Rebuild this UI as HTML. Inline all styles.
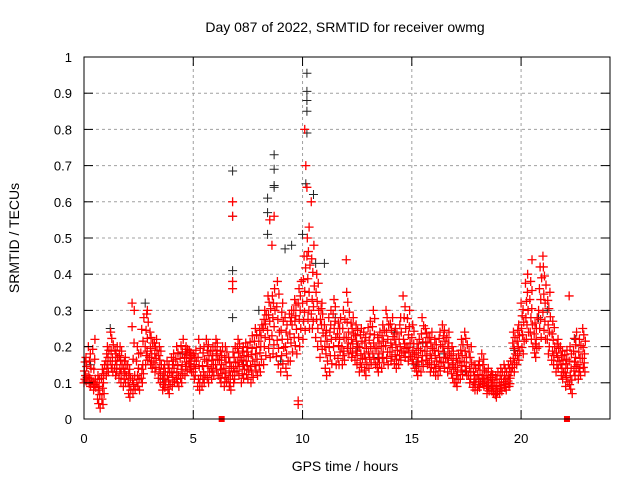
<!DOCTYPE html>
<html><head><meta charset="utf-8"><style>
html,body{margin:0;padding:0;background:#fff;}
svg{display:block;font-family:"Liberation Sans",sans-serif;}
</style></head><body>
<svg id="chart" width="640" height="480" viewBox="0 0 640 480" xmlns="http://www.w3.org/2000/svg">
<rect width="640" height="480" fill="#fff"/>
<text x="345" y="32" font-size="14" text-anchor="middle">Day 087 of 2022, SRMTID for receiver owmg</text>
<text transform="translate(19,238) rotate(-90)" font-size="14" text-anchor="middle">SRMTID / TECUs</text>
<text x="345" y="471" font-size="14" text-anchor="middle">GPS time / hours</text>
<g id="grid"></g>
<g id="marks"></g>
<rect x="84" y="57" width="526" height="362" fill="none" stroke="#000" stroke-width="1"/>
<g id="ticks"></g>
</svg>
<script>
const xTicks=[0,5,10,15,20];
const yTicks=[0,0.1,0.2,0.3,0.4,0.5,0.6,0.7,0.8,0.9,1];
const yTickLabels=["0","0.1","0.2","0.3","0.4","0.5","0.6","0.7","0.8","0.9","1"];
const tStart=0, tStep=0.2;
const redLo=[.10,.09,.08,.03,.04,.12,.13,.12,.10,.09,.06,.07,.08,.10,.15,.14,.13,.10,.08,.07,.09,.09,.10,.12,.13,.11,.08,.09,.10,.11,.12,.10,.09,.08,.10,.12,.10,.11,.10,.12,.13,.15,.17,.18,.15,.13,.12,.16,.18,.20,.22,.25,.25,.20,.17,.12,.13,.15,.15,.15,.18,.17,.15,.13,.12,.14,.15,.13,.14,.15,.16,.14,.15,.17,.16,.14,.12,.13,.15,.13,.12,.12,.14,.13,.10,.09,.11,.12,.10,.08,.08,.09,.07,.07,.06,.07,.08,.09,.13,.15,.18,.22,.20,.17,.20,.22,.18,.15,.13,.11,.09,.07,.12,.11,.13];
const redMid=[.12,.12,.11,.08,.10,.16,.17,.16,.15,.13,.10,.12,.12,.15,.20,.18,.18,.15,.11,.12,.14,.13,.15,.17,.16,.15,.12,.13,.16,.15,.18,.15,.14,.12,.14,.17,.15,.16,.16,.18,.20,.25,.27,.28,.24,.22,.20,.26,.27,.30,.32,.35,.33,.30,.26,.20,.22,.25,.22,.20,.24,.22,.20,.18,.18,.20,.21,.18,.20,.22,.21,.19,.20,.22,.21,.19,.17,.19,.20,.18,.16,.17,.20,.18,.15,.13,.16,.17,.14,.11,.11,.12,.10,.10,.09,.10,.11,.12,.18,.20,.25,.30,.28,.22,.30,.32,.26,.20,.17,.15,.14,.12,.17,.15,.18];
const redHi=[.17,.20,.22,.12,.15,.20,.24,.20,.20,.17,.15,.30,.20,.28,.29,.24,.22,.20,.15,.16,.18,.20,.22,.20,.19,.19,.22,.20,.22,.20,.22,.20,.20,.17,.20,.22,.20,.21,.23,.25,.26,.30,.34,.36,.38,.32,.28,.30,.33,.38,.45,.50,.48,.40,.32,.26,.30,.33,.28,.30,.35,.28,.26,.25,.24,.27,.30,.24,.26,.30,.28,.25,.28,.34,.30,.26,.22,.28,.25,.24,.22,.24,.26,.24,.20,.18,.22,.24,.20,.15,.16,.18,.14,.13,.13,.14,.15,.16,.24,.26,.32,.40,.38,.28,.42,.42,.35,.27,.22,.20,.19,.20,.24,.22,.25];
const redOutT=[6.8,6.8,6.8,6.8,8.5,8.7,8.6,10.1,10.15,10.2,10.3,10.4,10.2,9.8,9.8,12.0,22.2,20.5,21.0,2.2,2.9];
const redOutV=[.60,.56,.38,.36,.55,.56,.48,.80,.70,.64,.53,.60,.45,.05,.04,.44,.34,.44,.45,.32,.30];
const blackT=[6.8,6.8,6.8,6.8,8.7,8.7,8.7,8.7,8.4,8.4,8.4,10.2,10.2,10.2,10.2,10.2,10.15,10.0,10.5,10.6,11.0,9.5,9.2,0.3,1.2,2.8,4.5,5.6,7.3,8.0,9.0,11.5,12.5,13.5,14.2,15.5,16.5,17.5,18.5,19.7,20.8,21.2,22.5,3.6,15.2];
const blackV=[.685,.56,.41,.28,.73,.69,.645,.64,.61,.57,.51,.955,.905,.88,.85,.79,.65,.51,.62,.43,.43,.48,.47,.15,.25,.32,.18,.22,.15,.30,.16,.28,.20,.17,.24,.21,.18,.13,.09,.19,.28,.30,.22,.11,.15];
const squareT=[6.3,22.1];
const X0=84,X1=608.5,Y0=419,Y1=57;
function sx(t){return X0+t*(X1-X0)/24;}
function sy(v){return Y0-v*(Y0-Y1);}
const NS="http://www.w3.org/2000/svg";
const grid=document.getElementById('grid'),ticks=document.getElementById('ticks'),marks=document.getElementById('marks');
function el(n,a,p){const e=document.createElementNS(NS,n);for(const k in a)e.setAttribute(k,a[k]);p.appendChild(e);return e;}
yTicks.forEach((v,i)=>{
  const y=sy(v);
  if(i>0&&i<yTicks.length-1){const g=el('line',{x1:84,x2:610,y1:y,y2:y,stroke:'#a0a0a0','stroke-dasharray':'3,3'},grid);
  
  }
  el('line',{x1:84,x2:93,y1:y,y2:y,stroke:'#000'},ticks);
  el('line',{x1:601,x2:610,y1:y,y2:y,stroke:'#000'},ticks);
  const t=el('text',{x:72,y:y+5,'font-size':13,'text-anchor':'end'},ticks);t.textContent=yTickLabels[i];
  
  
});
xTicks.forEach(v=>{
  const x=sx(v);
  if(v>0){const g=el('line',{x1:x,x2:x,y1:57,y2:419,stroke:'#a0a0a0','stroke-dasharray':'3,3'},grid);
  
  }
  el('line',{x1:x,x2:x,y1:419,y2:410,stroke:'#000'},ticks);
  el('line',{x1:x,x2:x,y1:57,y2:66,stroke:'#000'},ticks);
  const t=el('text',{x:x,y:443,'font-size':13,'text-anchor':'middle'},ticks);t.textContent=String(v);
  
  
});
function plus(t,v,c,w,name){
  const x=sx(t),y=sy(v);
  const p=el('path',{d:`M${x-4.5},${y}h9M${x},${y-4.5}v9`,stroke:c,'stroke-width':w,fill:'none'},marks);
  
  
}
blackT.forEach((t,i)=>plus(t,blackV[i],'#222','1','black-point'));
const offs=[0,0.1,0.04,0.14,0.07,0.02,0.12,0.05,0.09];
redMid.forEach((m,i)=>{
  const t=tStart+i*tStep,lo=redLo[i],hi=redHi[i];
  const n=8;
  for(let k=0;k<=n;k++){
    const f=k/n;
    const v=f<=0.5? lo+(m-lo)*(f*2) : m+(hi-m)*((f-0.5)*2);
    plus(t+offs[(k+i)%9],v,'#ff0000',1.3,'red-point');
  }
});
redOutT.forEach((t,i)=>plus(t,redOutV[i],'#ff0000',1.3,'red-outlier'));
squareT.forEach(t=>{const r=el('rect',{x:sx(t)-3,y:416,width:6,height:6,fill:'#ff0000'},marks);
  
  });
</script>
</body></html>
